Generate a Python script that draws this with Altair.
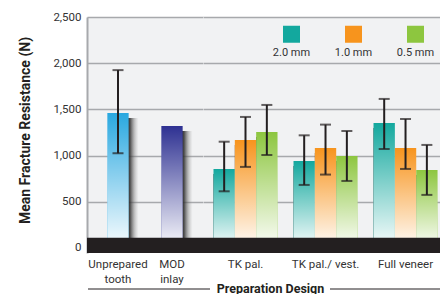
import altair as alt
import pandas as pd

# ---------------- data ----------------
single_designs = ["Unprepared tooth", "MOD inlay"]
single_means = [1460, 1320]
single_low = [1025, None]
single_high = [1925, None]
single_colors = ["#29a8e0", "#2e3192"]

group_designs = ["TK pal.", "TK pal./ vest.", "Full veneer"]
sizes = ["2.0 mm", "1.0 mm", "0.5 mm"]
size_colors = ["#13a89e", "#f7941d", "#8dc63f"]
means_20 = [855, 941, 1353]
means_10 = [1169, 1082, 1082]
means_05 = [1255, 996, 844]
low_20 = [613, 682, 1071]
low_10 = [877, 794, 855]
low_05 = [1006, 725, 574]
high_20 = [1150, 1219, 1613]
high_10 = [1418, 1335, 1396]
high_05 = [1548, 1266, 1115]

y_ticks = [0, 500, 1000, 1500, 2000, 2500]
y_domain = [-55, 2500]
base_band = [-55, 110]

# ---------------- tables ----------------
df_single = pd.DataFrame({"design": single_designs, "mean": single_means,
                          "low": single_low, "high": single_high})
rows = []
for s, m, lo, hi in [(sizes[0], means_20, low_20, high_20),
                     (sizes[1], means_10, low_10, high_10),
                     (sizes[2], means_05, low_05, high_05)]:
    for d, mv, lv, hv in zip(group_designs, m, lo, hi):
        rows.append({"design": d, "size": s, "mean": mv, "low": lv, "high": hv})
df_group = pd.DataFrame(rows)
df_band = pd.DataFrame({"lo": [base_band[0]], "hi": [base_band[1]]})
df_one = pd.DataFrame({"a": [0]})

# ---------------- styles ----------------
INK = "#231f20"
GRID = "#a7a9ac"
FONT = "Roboto"
H = 236
WL = 116
WR = 237
white_fade = alt.Gradient(
    gradient="linear", x1=0, x2=0, y1=0, y2=1,
    stops=[alt.GradientStop(color="rgba(255,255,255,0)", offset=0),
           alt.GradientStop(color="rgba(255,255,255,0.98)", offset=1)])
shadow_fill = alt.Gradient(
    gradient="linear", x1=0, x2=1, y1=0, y2=0,
    stops=[alt.GradientStop(color="#222222", offset=0),
           alt.GradientStop(color="#2c2c2c", offset=0.5),
           alt.GradientStop(color="rgba(50,50,50,0.85)", offset=0.6),
           alt.GradientStop(color="rgba(110,110,110,0.4)", offset=0.8),
           alt.GradientStop(color="rgba(160,160,160,0)", offset=1)])

yscale = alt.Scale(domain=y_domain, nice=False, zero=False)
BW = 21.3


def y_enc(field, axis):
    return alt.Y(f"{field}:Q", scale=yscale, axis=axis, stack=None)


# ---------------- left view (single bars) ----------------
left_axis_y = alt.Axis(title="Mean Fracture Resistance (N)", values=y_ticks, format=",d",
                       grid=True, ticks=False, domainColor=GRID, domainWidth=2,
                       labelPadding=6, titlePadding=20, titleY=113,
                       titleFontSize=14, titleFontWeight="bold", titleColor=INK)
xl = alt.X("design:N", sort=single_designs,
           scale=alt.Scale(paddingInner=0, paddingOuter=0.074),
           axis=alt.Axis(title=None, labelExpr="split(datum.label, ' ')", labelAngle=0,
                         domain=False, ticks=False, labelPadding=5, labelLineHeight=15))

lb = alt.Chart(df_single)
l_shadow = lb.mark_bar(width=BW, xOffset=10, yOffset=5, fill=shadow_fill).encode(
    x=xl, y=y_enc("mean", left_axis_y))
l_bars = lb.mark_bar(width=BW).encode(
    x=xl, y=y_enc("mean", left_axis_y),
    color=alt.Color("design:N", scale=alt.Scale(domain=single_designs, range=single_colors),
                    legend=None))
l_fade = lb.mark_bar(width=BW, fill=white_fade).encode(x=xl, y=y_enc("mean", left_axis_y))
l_band = alt.Chart(df_band).mark_rect(color=INK).encode(
    x=alt.value(0), x2=alt.value("width"), y=y_enc("lo", left_axis_y), y2="hi:Q")
l_err = lb.transform_filter("isValid(datum.low)").mark_rule(color=INK, strokeWidth=2).encode(
    x=xl, y=y_enc("low", left_axis_y), y2="high:Q")
l_cap1 = lb.transform_filter("isValid(datum.low)").mark_tick(
    color=INK, size=11, thickness=2, orient="horizontal").encode(x=xl, y=y_enc("low", left_axis_y))
l_cap2 = lb.transform_filter("isValid(datum.low)").mark_tick(
    color=INK, size=11, thickness=2, orient="horizontal").encode(x=xl, y=y_enc("high", left_axis_y))

left = alt.layer(l_shadow, l_bars, l_fade, l_band, l_err, l_cap1, l_cap2).properties(
    width=WL, height=H)

# ---------------- right view (grouped bars) ----------------
right_axis_y = alt.Axis(title=None, values=y_ticks, grid=True, labels=False, ticks=False,
                        domain=False)
xr = alt.X("design:N", sort=group_designs,
           scale=alt.Scale(paddingInner=0.2, paddingOuter=0.081, align=0.81),
           axis=alt.Axis(title="Preparation Design", titleX=67, titleY=39,
                         titleBaseline="alphabetic", titleAlign="center",
                         titleFontSize=12.5, titleFontWeight="bold", titleColor=INK,
                         labelAngle=0, domain=False, ticks=False, labelPadding=5))
xo = alt.XOffset("size:N", sort=sizes)

rb = alt.Chart(df_group)
r_shadow = rb.mark_bar(xOffset=10, yOffset=5, fill=shadow_fill).encode(
    x=xr, xOffset=xo, y=y_enc("mean", right_axis_y))
r_bars = rb.mark_bar().encode(
    x=xr, xOffset=xo, y=y_enc("mean", right_axis_y),
    color=alt.Color("size:N", sort=sizes,
                    scale=alt.Scale(domain=sizes, range=size_colors),
                    legend=alt.Legend(orient="none", legendX=80, legendY=8.5,
                                      direction="horizontal", title=None,
                                      symbolType="square", symbolSize=289,
                                      symbolStrokeWidth=0, symbolOpacity=1,
                                      labelExpr="['', datum.label]",
                                      labelBaseline="top", labelAlign="center",
                                      labelOffset={"expr": "-8.5"}, columnPadding=23,
                                      labelFontSize=11, labelColor="#333333",
                                      labelFont=FONT, padding=0)))
r_fade = rb.mark_bar(fill=white_fade).encode(x=xr, xOffset=xo, y=y_enc("mean", right_axis_y))
r_band = alt.Chart(df_band).mark_rect(color=INK).encode(
    x=alt.value(0), x2=alt.value("width"), y=y_enc("lo", right_axis_y), y2="hi:Q")
r_err = rb.mark_rule(color=INK, strokeWidth=2).encode(
    x=xr, xOffset=xo, y=y_enc("low", right_axis_y), y2="high:Q")
r_cap1 = rb.mark_tick(color=INK, size=11, thickness=2, orient="horizontal").encode(
    x=xr, xOffset=xo, y=y_enc("low", right_axis_y))
r_cap2 = rb.mark_tick(color=INK, size=11, thickness=2, orient="horizontal").encode(
    x=xr, xOffset=xo, y=y_enc("high", right_axis_y))
line_a = alt.Chart(df_one).mark_rule(color=INK, strokeWidth=1).encode(
    x=alt.value(-115), x2=alt.value(7), y=alt.value(H + 36))
line_b = alt.Chart(df_one).mark_rule(color=INK, strokeWidth=1).encode(
    x=alt.value(127), x2=alt.value(WR), y=alt.value(H + 36))

right = alt.layer(r_shadow, r_bars, r_fade, r_band, r_err, r_cap1, r_cap2,
                  line_a, line_b).properties(width=WR, height=H)

chart = alt.hconcat(left, right, spacing=0, bounds="flush").resolve_scale(
    color="independent", y="independent").properties(
    padding={"left": 79, "top": 9, "right": 353, "bottom": 41},
    autosize=alt.AutoSizeParams(type="none"),
    background="white",
).configure_view(fill="#f1f2f3", stroke=None).configure_axis(
    labelFont=FONT, titleFont=FONT, labelFontSize=11.5, labelColor="#333333",
    gridColor=GRID, gridWidth=1.5,
)

chart.save("out.html", embed_options={"renderer": "svg", "actions": False})
